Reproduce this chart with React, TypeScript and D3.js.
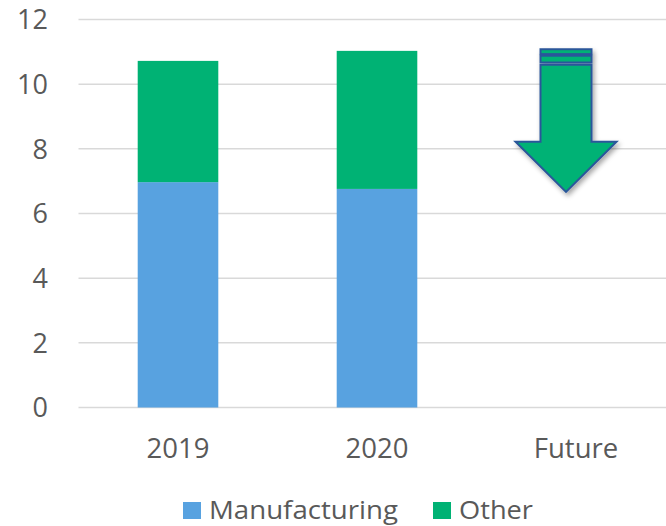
import React from "react";
import * as d3 from "d3";

const categories = ["2019", "2020", "Future"];
const manufacturing = [6.97, 6.76, 0];
const other = [3.75, 4.27, 0];
const yTicks = [0, 2, 4, 6, 8, 10, 12];
const seriesNames = ["Manufacturing", "Other"];
const seriesColors = ["#58A2E0", "#00B274"];
// decorative arrow over "Future" (values in axis units)
const arrowTip = 6.67;
const arrowHeadTop = 8.22;
const arrowShaftTop = 10.6;
const arrowStripes = [
  [10.67, 10.88],
  [10.93, 11.08],
];

const W = 666;
const H = 526;
const FONT = "'Open Sans', sans-serif";

export default function App() {
  const left = 78.5;
  const right = 675.5;
  const x = d3.scaleBand<string>().domain(categories).range([left, right]).paddingInner(0.595).paddingOuter(0.2975);
  const y = d3.scaleLinear().domain([0, 12]).range([407.5, 19.5]);
  const bw = x.bandwidth();

  const stack = categories.map((c, i) => ({
    c,
    segs: [
      { y0: 0, y1: manufacturing[i], color: seriesColors[0] },
      { y0: manufacturing[i], y1: manufacturing[i] + other[i], color: seriesColors[1] },
    ],
  }));

  const fx = (x("Future") ?? 0) + bw / 2 - 10;
  const shaftHalf = 25.5;
  const headHalf = 50.5;
  const arrowPath = [
    [fx - shaftHalf, y(arrowShaftTop)],
    [fx + shaftHalf, y(arrowShaftTop)],
    [fx + shaftHalf, y(arrowHeadTop)],
    [fx + headHalf, y(arrowHeadTop)],
    [fx, y(arrowTip)],
    [fx - headHalf, y(arrowHeadTop)],
    [fx - shaftHalf, y(arrowHeadTop)],
  ];
  const line = d3.line();

  return (
    <svg width={W} height={H} style={{ position: "absolute", left: 0, top: 0 }}>
      <defs>
        <filter id="shadow" x="-30%" y="-30%" width="160%" height="160%">
          <feDropShadow dx="2" dy="3" stdDeviation="2.5" floodColor="#000" floodOpacity="0.35" />
        </filter>
      </defs>
      <rect width={W} height={H} fill="#fff" />
      {yTicks.map((t) => (
        <g key={t}>
          <line x1={left} x2={W} y1={y(t)} y2={y(t)} stroke="#D9D9D9" strokeWidth={1.5} />
          <text x={48} y={y(t)} dy="0.36em" textAnchor="end" fontFamily={FONT} fontSize={27} fill="#595959">
            {t}
          </text>
        </g>
      ))}
      {stack.map((s) =>
        s.segs.map((g, j) =>
          g.y1 > g.y0 ? (
            <rect key={s.c + j} x={x(s.c)} width={bw} y={y(g.y1)} height={y(g.y0) - y(g.y1)} fill={g.color} />
          ) : null
        )
      )}
      {categories.map((c) => (
        <text key={c} x={(x(c) ?? 0) + bw / 2} y={458} textAnchor="middle" fontFamily={FONT} fontSize={27.5} fill="#595959">
          {c}
        </text>
      ))}
      <g filter="url(#shadow)">
        {arrowStripes.map(([a, b], i) => (
          <rect key={i} x={fx - shaftHalf} width={shaftHalf * 2} y={y(b)} height={y(a) - y(b)} fill="#00B274" stroke="#2B579A" strokeWidth={2} />
        ))}
        <path d={line(arrowPath as [number, number][]) + "Z"} fill="#00B274" stroke="#2B579A" strokeWidth={2} strokeLinejoin="miter" />
      </g>
      <g>
        <rect x={183} y={502} width={18} height={17} fill={seriesColors[0]} />
        <text x={209} y={518.5} fontFamily={FONT} fontSize={26} fill="#595959" textLength={189} lengthAdjust="spacingAndGlyphs">{seriesNames[0]}</text>
        <rect x={433} y={502} width={18} height={17} fill={seriesColors[1]} />
        <text x={459} y={518.5} fontFamily={FONT} fontSize={26} fill="#595959" textLength={74} lengthAdjust="spacingAndGlyphs">{seriesNames[1]}</text>
      </g>
    </svg>
  );
}
